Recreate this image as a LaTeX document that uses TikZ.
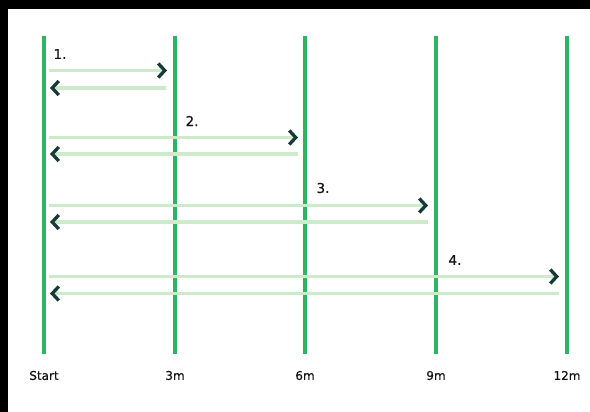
\documentclass[tikz,border=0pt]{standalone}
\usepackage{fontspec}
\setmainfont{DejaVu Sans}
\newfontfamily\medfont{DejaVu Sans}[FakeBold=0.6]
\usetikzlibrary{arrows.meta}
\definecolor{lanegreen}{HTML}{2DB563}
\definecolor{paleline}{HTML}{CDEBCB}
\definecolor{chev}{HTML}{17393A}
\definecolor{inkgray}{HTML}{141414}
\begin{document}
\begin{tikzpicture}[x=1pt,y=-1pt,
  lane/.style={draw=lanegreen,line width=3.2pt},
  axislabel/.style={font=\medfont\fontsize{12}{14}\selectfont,text=inkgray,inner sep=0pt,anchor=center},
  steplabel/.style={font=\medfont\fontsize{13.5}{15}\selectfont,text=inkgray,inner sep=0pt,anchor=center},
  goline/.style={draw=paleline,line width=3.2pt,-{Straight Barb[length=6.5pt,width=14pt,line width=3.3pt,color=chev]}},
  backline/.style={draw=paleline,line width=3.2pt,{Straight Barb[length=6.5pt,width=14pt,line width=3.3pt,color=chev]}-}
]
\useasboundingbox (0,0) rectangle (590,412);
\fill[black] (0,0) rectangle (590,412);
\fill[white] (8,9) rectangle (590,412);

% lanes
\foreach \name/\x/\txt in {l0/44/Start,l1/175/3m,l2/305/6m,l3/436/9m,l4/567/12m}{
  \coordinate (\name top) at (\x,36);
  \coordinate (\name bot) at (\x,354);
  \draw[lane] (\name top) -- (\name bot);
  \node[axislabel] (\name lab) at (\x,375.5) {\txt};
}

% step 1
\node[steplabel] (s1) at (60,54) {1.};
\coordinate (a1s) at (49,70.5);
\coordinate (a1e) at (167,70.5);
\coordinate (b1s) at (50,88);
\coordinate (b1e) at (166,88);
\draw[goline] (a1s) -- (a1e);
\draw[backline] (b1s) -- (b1e);

% step 2
\node[steplabel] (s2) at (192,121) {2.};
\coordinate (a2s) at (49,137.5);
\coordinate (a2e) at (298,137.5);
\coordinate (b2s) at (50,154);
\coordinate (b2e) at (298,154);
\draw[goline] (a2s) -- (a2e);
\draw[backline] (b2s) -- (b2e);

% step 3
\node[steplabel] (s3) at (323,188) {3.};
\coordinate (a3s) at (49,205.5);
\coordinate (a3e) at (428,205.5);
\coordinate (b3s) at (50,222);
\coordinate (b3e) at (428,222);
\draw[goline] (a3s) -- (a3e);
\draw[backline] (b3s) -- (b3e);

% step 4
\node[steplabel] (s4) at (455,260) {4.};
\coordinate (a4s) at (49,276.5);
\coordinate (a4e) at (559,276.5);
\coordinate (b4s) at (50,293.5);
\coordinate (b4e) at (559,293.5);
\draw[goline] (a4s) -- (a4e);
\draw[backline] (b4s) -- (b4e);
\end{tikzpicture}
\end{document}
